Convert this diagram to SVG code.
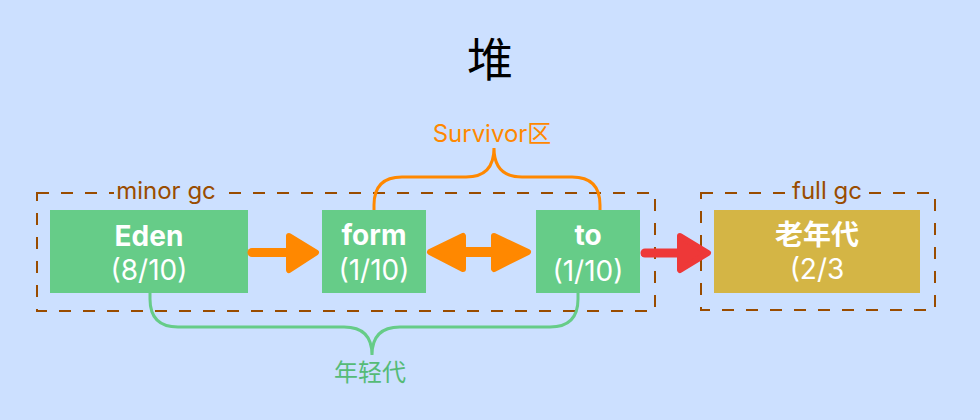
<svg xmlns="http://www.w3.org/2000/svg" width="980" height="420" viewBox="0 0 980 420">
  <style>
    .bg { fill: #CCE0FF; }
    .zone { fill: none; stroke: #994C00; stroke-width: 2; stroke-dasharray: 12 12; }
    .zlabel { font-family: Inter, "Noto Sans", "Noto Sans CJK SC", sans-serif; font-size: 24px; fill: #994C00; text-anchor: middle; }
    .young { fill: #66CC88; }
    .old { fill: #D4B545; }
    .title { font-family: Inter, "Noto Sans", "Noto Sans CJK SC", sans-serif; font-size: 28px; font-weight: bold; fill: #FFFFFF; text-anchor: middle; }
    .sub { font-family: Inter, "Noto Sans", "Noto Sans CJK SC", sans-serif; font-size: 28px; fill: #FFFFFF; text-anchor: middle; }
    .shaft { fill: none; stroke-linecap: round; }
    .head { stroke-width: 6; stroke-linejoin: round; }
    .orange { stroke: #FF8800; fill: #FF8800; }
    .red { stroke: #EE3838; fill: #EE3838; }
    .brace { fill: none; stroke-width: 3; }
    .blabel { font-family: Inter, "Noto Sans", "Noto Sans CJK SC", sans-serif; font-size: 24px; text-anchor: middle; }
  </style>
  <rect class="bg" x="0" y="0" width="980" height="420"/>

  <text x="490" y="76" font-family="'Noto Sans CJK SC', sans-serif" font-size="46" fill="#000000" text-anchor="middle">堆</text>

  <g id="zone-minor-gc">
    <rect class="zone" x="37" y="193" width="618" height="118"/>
    <rect class="bg" x="114" y="182" width="104" height="22"/>
    <text class="zlabel" x="166" y="199">minor gc</text>
  </g>
  <g id="zone-full-gc">
    <rect class="zone" x="701" y="193" width="234" height="117"/>
    <rect class="bg" x="790" y="182" width="74" height="22"/>
    <text class="zlabel" x="827" y="199">full gc</text>
  </g>

  <g id="brackets">
    <path class="brace" stroke="#FF8800" d="M 374 210 L 374 205 Q 374 177 402 177 L 466 177 Q 494 177 494 148 Q 494 177 522 177 L 572 177 Q 600 177 600 205 L 600 210"/>
    <text class="blabel" fill="#FF8800" x="492" y="142">Survivor区</text>
    <path class="brace" stroke="#66CC88" d="M 150 293 L 150 299 Q 150 327 178 327 L 344 327 Q 372 327 372 355 Q 372 327 400 327 L 550 327 Q 578 327 578 299 L 578 293"/>
    <text class="blabel" fill="#55BB77" x="370" y="381">年轻代</text>
  </g>

  <g id="eden">
    <rect class="young" x="50" y="210" width="198" height="83"/>
    <text class="title" x="149" y="246">Eden</text>
    <text class="sub" x="149" y="280">(8/10)</text>
  </g>
  <g id="form">
    <rect class="young" x="322" y="210" width="104" height="83"/>
    <text class="title" x="374" y="245">form</text>
    <text class="sub" x="374" y="280">(1/10)</text>
  </g>
  <g id="to">
    <rect class="young" x="536" y="210" width="104" height="83"/>
    <text class="title" x="588" y="245">to</text>
    <text class="sub" x="588" y="281">(1/10)</text>
  </g>
  <g id="old-gen">
    <rect class="old" x="714" y="210" width="206" height="83"/>
    <text class="title" x="817" y="245">老年代</text>
    <text class="sub" x="817" y="279">(2/3</text>
  </g>

  <g id="connectors">
    <g id="eden-to-form">
      <line class="shaft orange" x1="252" y1="252.5" x2="292" y2="252.5" stroke-width="9"/>
      <polygon class="head orange" points="289,236 316,252.5 289,270"/>
    </g>
    <g id="form-to">
      <line class="shaft orange" x1="460" y1="252" x2="496" y2="252" stroke-width="10"/>
      <polygon class="head orange" points="430,252 463,236 463,269"/>
      <polygon class="head orange" points="494,236 528,252 494,269"/>
    </g>
    <g id="to-old">
      <line class="shaft red" x1="645" y1="253" x2="682" y2="253" stroke-width="9"/>
      <polygon class="head red" points="680,236 708,253 680,270"/>
    </g>
  </g>
</svg>
